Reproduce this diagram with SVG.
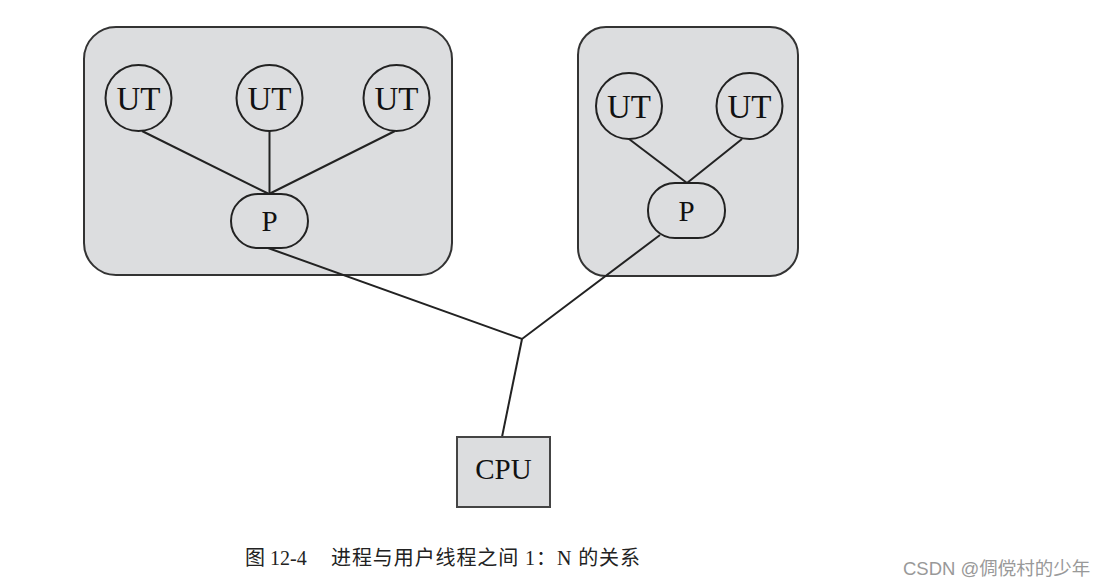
<svg xmlns="http://www.w3.org/2000/svg" width="1110" height="588" viewBox="0 0 1110 588">
<style>
.box{fill:#dcdddf;stroke:#333;stroke-width:2}
.ut{fill:#dcdddf;stroke:#222;stroke-width:2}
.lbl{font-family:"Liberation Serif","Noto Serif",serif;fill:#111;text-anchor:middle}
.u{font-size:33px}
.p{font-size:29px}
.ln{stroke:#222;stroke-width:2;fill:none}
.cap{font-family:"Liberation Serif","Noto Sans CJK SC",serif;font-size:20px;fill:#222}
.wm{font-family:"Liberation Sans","Noto Sans CJK SC",sans-serif;font-size:18.5px;fill:#999}
</style>
<rect width="1110" height="588" fill="#fff"/>
<g id="proc1">
<rect class="box" x="84" y="27" width="368" height="248" rx="32"/>
</g>
<g id="proc2">
<rect class="box" x="578" y="27" width="220" height="249" rx="28"/>
</g>
<g id="connectors">
<line class="ln" x1="142" y1="131" x2="269" y2="194"/>
<line class="ln" x1="269.5" y1="131" x2="269.5" y2="194"/>
<line class="ln" x1="395" y1="131" x2="269" y2="194"/>
<line class="ln" x1="629" y1="139" x2="687" y2="183"/>
<line class="ln" x1="742" y1="139" x2="687" y2="183"/>
<polyline class="ln" points="268,248 522,339 660,235"/>
<line class="ln" x1="522" y1="339" x2="502" y2="437"/>
</g>
<g id="ut1"><circle class="ut" cx="138.5" cy="98" r="33"/><text class="lbl u" x="138.5" y="110">UT</text></g>
<g id="ut2"><circle class="ut" cx="269.5" cy="98" r="33"/><text class="lbl u" x="269.5" y="110">UT</text></g>
<g id="ut3"><circle class="ut" cx="396.5" cy="98" r="33"/><text class="lbl u" x="396.5" y="110">UT</text></g>
<g id="p1"><rect class="ut" x="231" y="194" width="77" height="54" rx="27"/><text class="lbl p" x="269.5" y="231">P</text></g>
<g id="ut4"><circle class="ut" cx="629" cy="106" r="33"/><text class="lbl u" x="629" y="118">UT</text></g>
<g id="ut5"><circle class="ut" cx="749.5" cy="106" r="33"/><text class="lbl u" x="749.5" y="118">UT</text></g>
<g id="p2"><rect class="ut" x="648" y="183" width="77" height="55" rx="27"/><text class="lbl p" x="686.5" y="221">P</text></g>
<g id="cpu"><rect x="457" y="437" width="93" height="70" fill="#dcdddf" stroke="#444" stroke-width="2"/><text class="lbl" x="503.5" y="479" font-size="29">CPU</text></g>
<text class="cap" x="245" y="565">图 12-4</text>
<text class="cap" x="331" y="565" textLength="309" lengthAdjust="spacing">进程与用户线程之间 1：N 的关系</text>
<text class="wm" x="903" y="575">CSDN @倜傥村的少年</text>
</svg>
